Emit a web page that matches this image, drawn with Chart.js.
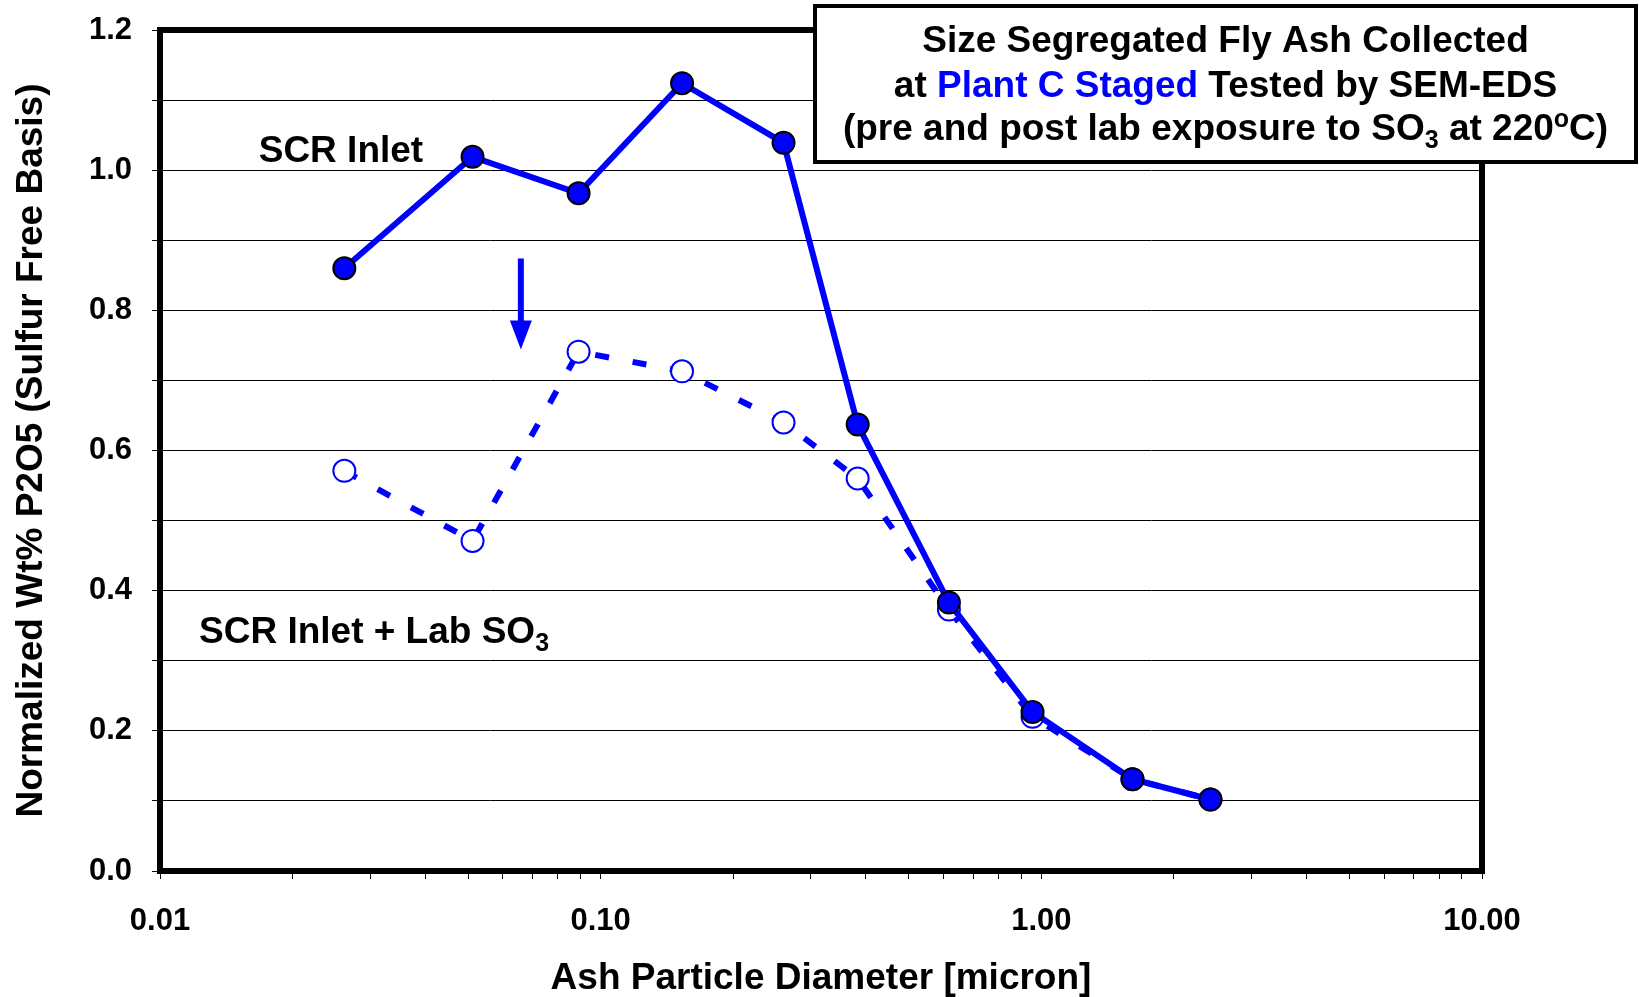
<!DOCTYPE html>
<html>
<head>
<meta charset="utf-8">
<script src="https://cdn.jsdelivr.net/npm/chart.js@4/dist/chart.umd.min.js"></script>
<style>
  body { margin: 0; background: #fff; }
  #wrap { width: 1639px; height: 997px; }
</style>
</head>
<body>
<div id="wrap"><canvas id="ashChart" width="1639" height="997"></canvas></div>
<script>
// Particle diameters (micron) and normalized wt% P2O5
const diameters = [0.0262, 0.0512, 0.0891, 0.153, 0.260, 0.383, 0.617, 0.955, 1.61, 2.42];
const scrInlet = [0.86, 1.019, 0.967, 1.124, 1.039, 0.637, 0.383, 0.227, 0.131, 0.102];
const scrInletLabSO3 = [0.571, 0.471, 0.741, 0.713, 0.640, 0.560, 0.373, 0.220, 0.131, 0.102];

// Axis ticks
const yTickValues = [0, 0.1, 0.2, 0.3, 0.4, 0.5, 0.6, 0.7, 0.8, 0.9, 1.0, 1.1, 1.2];
const yLabelValues = [0, 0.2, 0.4, 0.6, 0.8, 1.0, 1.2];
const xDecades = [0.01, 0.1, 1, 10];
const xDecadeLabels = ['0.01', '0.10', '1.00', '10.00'];
const xMinorSteps = [2, 3, 4, 5, 6, 7, 8, 9];

const FONT = '"Liberation Sans", Arial, sans-serif';
const BLUE = '#0000ff';

function near(a, b) { return Math.abs(a - b) < 1e-9 * Math.max(1, Math.abs(b)); }

// draw a line made of pieces with their own colour / size / vertical shift
function richText(ctx, parts, x, y, align) {
    let total = 0;
    parts.forEach(p => {
        ctx.font = 'bold ' + p.size + 'px ' + FONT;
        p.w = ctx.measureText(p.t).width;
        total += p.w;
    });
    let cx = align === 'center' ? x - total / 2 : x;
    ctx.textAlign = 'left';
    ctx.textBaseline = 'alphabetic';
    parts.forEach(p => {
        ctx.font = 'bold ' + p.size + 'px ' + FONT;
        ctx.fillStyle = p.color || '#000';
        ctx.fillText(p.t, cx, y + (p.dy || 0));
        cx += p.w;
    });
}

const framePlugin = {
    id: 'frame',
    beforeDatasetsDraw(chart) {
        const { ctx, chartArea: a } = chart;
        ctx.save();
        ctx.strokeStyle = '#000';
        ctx.lineWidth = 6;
        ctx.strokeRect(a.left, a.top, a.right - a.left, a.bottom - a.top);
        ctx.restore();
    },
    afterDraw(chart) {
        const { ctx } = chart;
        const xs = chart.scales.x, ys = chart.scales.y;
        ctx.save();

        // in-plot labels
        richText(ctx, [{ t: 'SCR Inlet', size: 37 }],
            xs.getPixelForValue(0.01675), ys.getPixelForValue(1.011), 'left');
        richText(ctx, [
            { t: 'SCR Inlet + Lab SO', size: 37 },
            { t: '3', size: 25, dy: 8 }
        ], xs.getPixelForValue(0.01226), ys.getPixelForValue(0.326), 'left');

        // down arrow
        const ax = xs.getPixelForValue(0.0659);
        const ay0 = ys.getPixelForValue(0.874);
        const ay1 = ys.getPixelForValue(0.744);
        ctx.strokeStyle = BLUE;
        ctx.fillStyle = BLUE;
        ctx.lineWidth = 6;
        ctx.beginPath();
        ctx.moveTo(ax, ay0);
        ctx.lineTo(ax, ay1 - 26);
        ctx.stroke();
        ctx.beginPath();
        ctx.moveTo(ax - 11, ay1 - 29);
        ctx.lineTo(ax + 11, ay1 - 29);
        ctx.lineTo(ax, ay1);
        ctx.closePath();
        ctx.fill();

        // title box
        const bx = 815, by = 6, bw = 821, bh = 156;
        ctx.fillStyle = '#fff';
        ctx.fillRect(bx, by, bw, bh);
        ctx.strokeStyle = '#000';
        ctx.lineWidth = 4;
        ctx.strokeRect(bx, by, bw, bh);
        const cx = bx + bw / 2;
        richText(ctx, [{ t: 'Size Segregated Fly Ash Collected', size: 37 }], cx, 52, 'center');
        richText(ctx, [
            { t: 'at ', size: 37 },
            { t: 'Plant C Staged', size: 37, color: BLUE },
            { t: ' Tested by SEM-EDS', size: 37 }
        ], cx, 97, 'center');
        richText(ctx, [
            { t: '(pre and post lab exposure to SO', size: 37 },
            { t: '3', size: 25, dy: 8 },
            { t: ' at 220', size: 37 },
            { t: 'o', size: 25, dy: -13 },
            { t: 'C)', size: 37 }
        ], cx, 140, 'center');
        ctx.restore();
    }
};

const ctx = document.getElementById('ashChart').getContext('2d');

const chart = new Chart(ctx, {
    type: 'line',
    data: {
        datasets: [
            {
                label: 'SCR Inlet',
                data: diameters.map((d, i) => ({ x: d, y: scrInlet[i] })),
                borderColor: BLUE,
                borderWidth: 6,
                pointRadius: 11,
                pointBackgroundColor: BLUE,
                pointBorderColor: '#000',
                pointBorderWidth: 2,
                tension: 0
            },
            {
                label: 'SCR Inlet + Lab SO3',
                data: diameters.map((d, i) => ({ x: d, y: scrInletLabSO3[i] })),
                borderColor: BLUE,
                borderWidth: 6,
                borderDash: [14, 24],
                pointRadius: 11,
                pointBackgroundColor: '#fff',
                pointBorderColor: BLUE,
                pointBorderWidth: 2,
                tension: 0
            }
        ]
    },
    options: {
        responsive: false,
        animation: false,
        layout: { padding: { top: 30, right: 157, left: 0, bottom: 0 } },
        plugins: {
            legend: { display: false },
            tooltip: { enabled: false }
        },
        scales: {
            x: {
                type: 'logarithmic',
                min: 0.01,
                max: 10,
                afterBuildTicks(scale) {
                    const ticks = [];
                    xDecades.forEach((d, i) => {
                        ticks.push({ value: d, major: true });
                        if (i < xDecades.length - 1) xMinorSteps.forEach(m => ticks.push({ value: d * m }));
                    });
                    scale.ticks = ticks;
                },
                afterFit(scale) {
                    scale.height = 126;
                    scale.paddingLeft = 0;
                    scale.paddingRight = 0;
                },
                grid: { drawOnChartArea: false, drawTicks: true, tickLength: 8, color: '#000', lineWidth: 1 },
                border: { display: false },
                ticks: {
                    autoSkip: false,
                    maxRotation: 0,
                    padding: 24,
                    color: '#000',
                    font: { family: FONT, size: 31, weight: 'bold' },
                    callback(value) {
                        const i = xDecades.findIndex(d => near(d, value));
                        return i >= 0 ? xDecadeLabels[i] : '';
                    }
                },
                title: {
                    display: true,
                    text: 'Ash Particle Diameter [micron]',
                    color: '#000',
                    font: { family: FONT, size: 37, weight: 'bold' },
                    padding: { top: 0, bottom: -4 }
                }
            },
            y: {
                min: 0,
                max: 1.2,
                afterBuildTicks(scale) {
                    scale.ticks = yTickValues.map(v => ({ value: v }));
                },
                afterFit(scale) {
                    scale.width = 160;
                    scale.paddingTop = 0;
                    scale.paddingBottom = 0;
                },
                grid: { color: '#000', lineWidth: 1, drawTicks: true, tickLength: 8 },
                border: { display: false },
                ticks: {
                    padding: 20,
                    color: '#000',
                    font: { family: FONT, size: 31, weight: 'bold' },
                    callback(value) {
                        return yLabelValues.some(v => near(v, value)) ? value.toFixed(1) : '';
                    }
                },
                title: {
                    display: true,
                    text: 'Normalized Wt% P2O5 (Sulfur Free Basis)',
                    color: '#000',
                    font: { family: FONT, size: 37, weight: 'bold' },
                    padding: { top: 10, bottom: 0 }
                }
            }
        }
    },
    plugins: [framePlugin]
});
</script>
</body>
</html>
